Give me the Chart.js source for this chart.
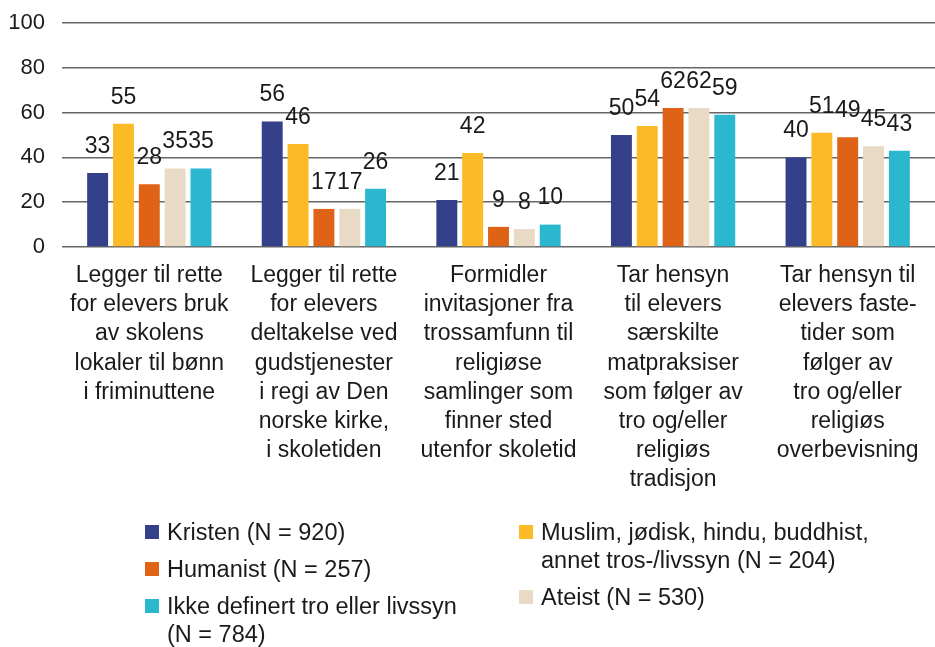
<!DOCTYPE html>
<html>
<head>
<meta charset="utf-8">
<script src="https://cdn.jsdelivr.net/npm/chart.js@4.4.1/dist/chart.umd.min.js"></script>
<style>
  body { margin: 0; background: #fff; font-family: "Liberation Sans", Arial, sans-serif; }
  #wrap { position: relative; width: 935px; height: 647px; }
  #chart-box { position: absolute; left: 0; top: 0; width: 935px; height: 520px; }
  .legend-col { position: absolute; top: 518px; font-size: 23.5px; color: #1a1a1a; line-height: 28px; }
  .legend-item { display: flex; align-items: flex-start; margin-bottom: 9px; }
  .legend-item .sw { flex: none; width: 14px; height: 14px; margin: 7px 8px 0 0; }
</style>
</head>
<body>
<div id="wrap">
  <div id="chart-box"><canvas id="bars"></canvas></div>
  <div class="legend-col" id="legend-left" style="left:145px; width:325px;"></div>
  <div class="legend-col" id="legend-right" style="left:519px; width:370px;"></div>
</div>
<script>
// --- data ---
const categories = [
    ['Legger til rette', 'for elevers bruk', 'av skolens', 'lokaler til bønn', 'i friminuttene'],
    ['Legger til rette', 'for elevers', 'deltakelse ved', 'gudstjenester', 'i regi av Den', 'norske kirke,', 'i skoletiden'],
    ['Formidler', 'invitasjoner fra', 'trossamfunn til', 'religiøse', 'samlinger som', 'finner sted', 'utenfor skoletid'],
    ['Tar hensyn', 'til elevers', 'særskilte', 'matpraksiser', 'som følger av', 'tro og/eller', 'religiøs', 'tradisjon'],
    ['Tar hensyn til', 'elevers faste-', 'tider som', 'følger av', 'tro og/eller', 'religiøs', 'overbevisning']
];
const yTicks = [0, 20, 40, 60, 80, 100];

const kristen   = [33, 56, 21, 50, 40];
const muslim    = [55, 46, 42, 54, 51];
const humanist  = [28, 17, 9, 62, 49];
const ateist    = [35, 17, 8, 62, 45];
const ikkeDef   = [35, 26, 10, 59, 43];

const seriesNames = [
    'Kristen (N = 920)',
    'Muslim, jødisk, hindu, buddhist, annet tros-/livssyn (N = 204)',
    'Humanist (N = 257)',
    'Ateist (N = 530)',
    'Ikke definert tro eller livssyn (N = 784)'
];
const seriesColors = ['#34418a', '#fbba26', '#df6317', '#e9dac5', '#2bb8cf'];
const seriesData = [kristen, muslim, humanist, ateist, ikkeDef];

Chart.defaults.font.family = '"Liberation Sans", Arial, sans-serif';
Chart.defaults.color = '#1a1a1a';

// value labels above each bar
const valueLabels = {
    id: 'valueLabels',
    afterDatasetsDraw(chart) {
        const ctx = chart.ctx;
        ctx.save();
        ctx.font = '23px "Liberation Sans", Arial, sans-serif';
        ctx.fillStyle = '#1a1a1a';
        ctx.textAlign = 'center';
        ctx.textBaseline = 'bottom';
        chart.data.datasets.forEach((ds, i) => {
            chart.getDatasetMeta(i).data.forEach((bar, j) => {
                ctx.fillText(ds.data[j], bar.x, bar.y - 15);
            });
        });
        ctx.restore();
    }
};

new Chart(document.getElementById('bars'), {
    type: 'bar',
    data: {
        labels: categories,
        datasets: seriesData.map((d, i) => ({
            label: seriesNames[i],
            data: d,
            backgroundColor: seriesColors[i],
            categoryPercentage: 0.74,
            barPercentage: 0.81
        }))
    },
    options: {
        responsive: true,
        maintainAspectRatio: false,
        animation: false,
        layout: { padding: { top: 23, left: 8, right: 0, bottom: 25 } },
        plugins: { legend: { display: false }, tooltip: { enabled: false } },
        scales: {
            x: {
                grid: { display: false, drawTicks: false },
                border: { display: false },
                // wide labels must not push the plot inwards, and the 8-line
                // label needs more than the default half-height cap
                afterFit: axis => {
                    axis.paddingLeft = 0;
                    axis.paddingRight = 0;
                    axis.height = 248;
                },
                ticks: {
                    font: { size: 23, lineHeight: 1.27 },
                    color: '#1a1a1a',
                    padding: 14,
                    maxRotation: 0,
                    autoSkip: false
                }
            },
            y: {
                min: 0,
                max: 100,
                afterBuildTicks: axis => { axis.ticks = yTicks.map(v => ({ value: v })); },
                afterFit: axis => {
                    axis.width = 54;
                    axis.paddingTop = 0;
                    axis.paddingBottom = 0;
                },
                grid: { color: '#666', lineWidth: 1.5, drawTicks: false },
                border: { display: false },
                ticks: { font: { size: 22 }, color: '#1a1a1a', padding: 17 }
            }
        }
    },
    plugins: [valueLabels]
});

// two-column legend like the original
const leftOrder = [0, 2, 4];
const rightOrder = [1, 3];
function fillLegend(el, order) {
    order.forEach(i => {
        const item = document.createElement('div');
        item.className = 'legend-item';
        item.innerHTML = '<span class="sw" style="background:' + seriesColors[i] + '"></span><span>' + seriesNames[i] + '</span>';
        el.appendChild(item);
    });
}
fillLegend(document.getElementById('legend-left'), leftOrder);
fillLegend(document.getElementById('legend-right'), rightOrder);
</script>
</body>
</html>
